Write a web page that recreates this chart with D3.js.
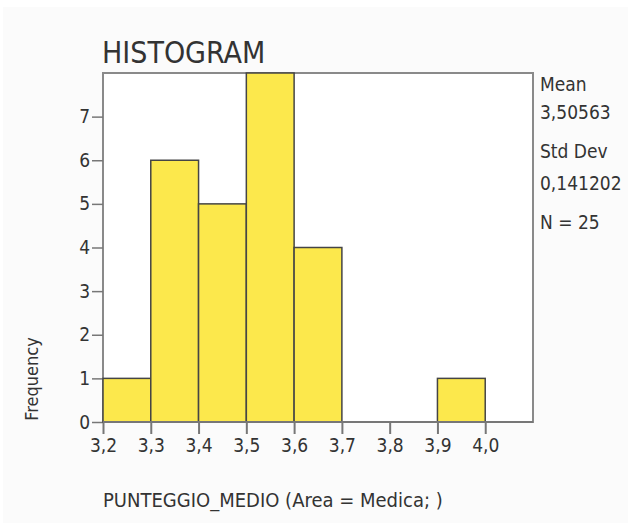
<!DOCTYPE html>
<html>
<head>
<meta charset="utf-8">
<script src="https://cdn.jsdelivr.net/npm/d3@7"></script>
<style>
  html, body { margin: 0; padding: 0; background: #fff; }
  svg text { font-family: "DejaVu Sans Condensed", "Liberation Sans", sans-serif; fill: #333; }
</style>
</head>
<body>
<div id="app"></div>
<script>
// bin edges and counts
const binStarts = [3.2, 3.3, 3.4, 3.5, 3.6, 3.7, 3.8, 3.9]
const binWidth = 0.1
const counts = [1, 6, 5, 8, 4, 0, 0, 1]
const xTicks = [3.2, 3.3, 3.4, 3.5, 3.6, 3.7, 3.8, 3.9, 4.0]
const yTicks = [0, 1, 2, 3, 4, 5, 6, 7]
const stats = ['Mean', '3,50563', 'Std Dev', '0,141202', 'N = 25']

const W = 628, H = 523
const m = { left: 103, right: 533, top: 73, bottom: 422 }

const svg = d3.select('#app').append('svg')
  .attr('width', W)
  .attr('height', H)

svg.append('rect')
  .attr('x', 3).attr('y', 7)
  .attr('width', W - 3).attr('height', H - 7)
  .attr('fill', '#fbfbfb')

const x = d3.scaleLinear().domain([3.2, 4.1]).range([m.left, m.right])
const y = d3.scaleLinear().domain([0, 8]).range([m.bottom, m.top])

const comma = d => d3.format('.1f')(d).replace('.', ',')

// plot frame
svg.append('rect')
  .attr('x', x(3.2)).attr('y', y(8))
  .attr('width', x(4.1) - x(3.2)).attr('height', y(0) - y(8))
  .attr('fill', '#fff')
  .attr('stroke', '#8a8a8a')
  .attr('stroke-width', 2)

// y axis
const yAxis = svg.append('g')
  .attr('transform', `translate(${m.left},0)`)
  .call(d3.axisLeft(y).tickValues(yTicks).tickSize(11).tickPadding(2).tickFormat(d3.format('d')))
yAxis.select('.domain').remove()
yAxis.selectAll('line').attr('stroke', '#777').attr('stroke-width', 1.5)
yAxis.selectAll('text').style('font-size', '19px').attr('fill', '#333')

// x axis
const xAxis = svg.append('g')
  .attr('transform', `translate(0,${m.bottom})`)
  .call(d3.axisBottom(x).tickValues(xTicks).tickSize(12).tickPadding(5).tickFormat(comma))
xAxis.select('.domain').remove()
xAxis.selectAll('line').attr('stroke', '#777').attr('stroke-width', 2)
xAxis.selectAll('text').style('font-size', '19px').attr('fill', '#333')

// bars
svg.append('g').selectAll('rect')
  .data(binStarts)
  .join('rect')
  .attr('x', (d) => x(d))
  .attr('y', (d, i) => y(counts[i]))
  .attr('width', (d) => x(d + binWidth) - x(d))
  .attr('height', (d, i) => y(0) - y(counts[i]))
  .attr('fill', '#fce84c')
  .attr('stroke', '#454545')
  .attr('stroke-width', 1.5)

// baseline
svg.append('line')
  .attr('x1', x(3.2)).attr('x2', x(4.1))
  .attr('y1', y(0)).attr('y2', y(0))
  .attr('stroke', '#777')
  .attr('stroke-width', 2)

svg.append('text')
  .attr('x', 102).attr('y', 63)
  .style('font-size', '30px')
  .text('HISTOGRAM')

svg.append('g').selectAll('text')
  .data(stats)
  .join('text')
  .attr('x', 540)
  .attr('y', (d, i) => [91, 119, 158, 190, 229][i])
  .style('font-size', '19px')
  .text(d => d)

svg.append('text')
  .attr('transform', 'translate(38,379) rotate(-90)')
  .attr('text-anchor', 'middle')
  .style('font-size', '18px')
  .text('Frequency')

svg.append('text')
  .attr('x', 103).attr('y', 507)
  .style('font-size', '20px')
  .text('PUNTEGGIO_MEDIO (Area = Medica; )')
</script>
</body>
</html>
